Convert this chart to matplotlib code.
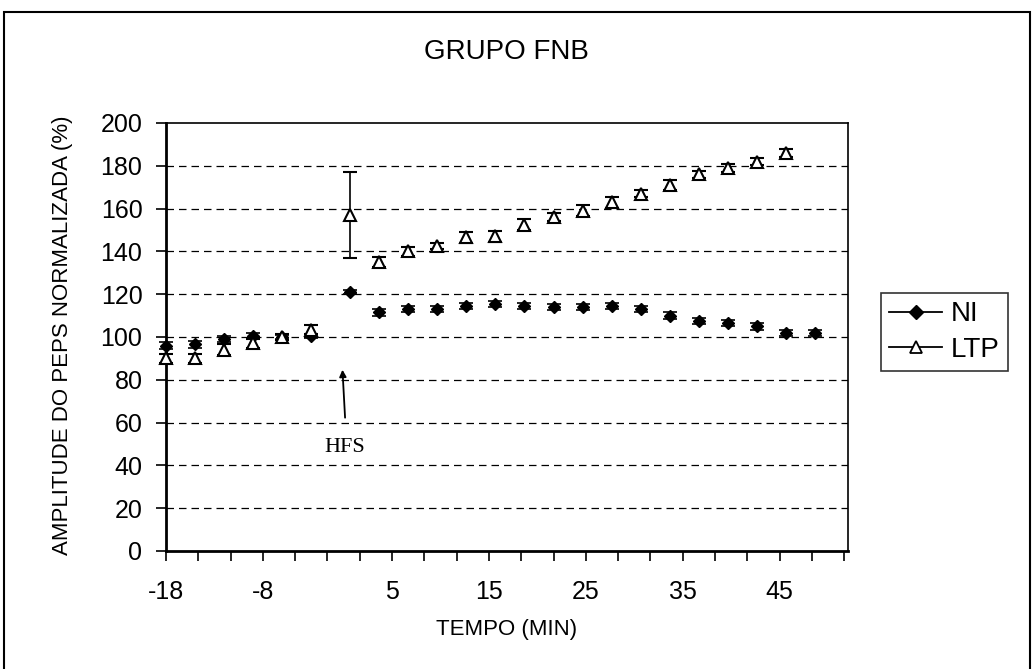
import matplotlib
matplotlib.use("Agg")
import matplotlib.pyplot as plt
from matplotlib.lines import Line2D

plt.rcParams["font.family"] = ["Liberation Sans", "DejaVu Sans"]

# tempo (min) de cada registro
tempo_ni = [-18, -15, -12, -9, -6, -3, 1, 4, 7, 10, 13, 16, 19, 22, 25, 28, 31, 34, 37, 40, 43, 46, 49]
tempo_ltp = tempo_ni[:-1]

# amplitude normalizada (%) e erro padrão
ni = [96, 96.5, 99, 100.5, 100, 100.5, 121, 111.5, 113, 113, 114.5, 115.5,
      114.5, 114, 114, 114.5, 113, 110, 107.5, 106.5, 105, 102, 102]
ni_err = [1.5, 1.5, 1.5, 1.5, 1, 1, 1, 1.5, 1.5, 1.5, 1.5, 1.5,
          1.5, 1.5, 1.5, 1.5, 1.5, 1.5, 1.5, 1.5, 1.5, 1.5, 1.5]
ltp = [90, 90, 94, 97, 100, 103.5, 157, 135, 140, 142.5, 146.5, 147,
       152.5, 156, 159, 163, 167, 171, 176, 179, 182, 186]
ltp_err = [2, 2, 2.5, 2, 1.5, 2, 20, 2.5, 2, 1.5, 2.5, 2.5,
           2.5, 2, 2.5, 2.5, 1.5, 2.5, 1.5, 2, 1.5, 2]

x_ticks = [-18 + k * 10 / 3 for k in range(22)]
x_labels = {0: "-18", 3: "-8", 7: "5", 10: "15", 13: "25", 16: "35", 19: "45"}

fig = plt.figure(figsize=(10.34, 6.69), dpi=100)
ax = fig.add_axes([166 / 1034, 118 / 669, 682 / 1034, 428 / 669])

for series in (
    ax.errorbar(tempo_ni, ni, yerr=ni_err, fmt="D", color="black", ms=6.5,
                ecolor="black", elinewidth=1.2, capsize=5, capthick=1.2,
                zorder=3),
    ax.errorbar(tempo_ltp, ltp, yerr=ltp_err, fmt="^", mfc="white", mec="black",
                mew=1.5, ms=9, ecolor="black", elinewidth=1.2, capsize=5,
                capthick=1.2, zorder=4),
):
    for artist in series.get_children():
        artist.set_clip_on(False)

ax.set_xlim(-18, 52.4)
ax.set_ylim(0, 200)
ax.set_yticks(range(0, 201, 20))
ax.set_xticks(x_ticks)
ax.set_xticklabels([x_labels.get(i, "") for i in range(len(x_ticks))])
ax.tick_params(axis="both", direction="out", length=7, width=1.2,
               labelsize=18, colors="black")
ax.tick_params(axis="y", pad=10)
ax.tick_params(axis="x", pad=14)

for y in range(20, 200, 20):
    ax.axhline(y, color="black", lw=0.9, ls=(0, (6, 4)), zorder=1)
for s in ax.spines.values():
    s.set_linewidth(1.2)
ax.spines["left"].set_linewidth(2)
ax.spines["bottom"].set_linewidth(2)

# seta do estímulo HFS
ax.annotate("", xy=(0.2, 86), xytext=(0.5, 61),
            arrowprops=dict(arrowstyle="-|>", color="black", lw=1.3,
                            mutation_scale=10))
ax.text(0.5, 48.5, "HFS", family="Liberation Serif", fontsize=16,
        ha="center", va="center")

fig.text(506 / 1034, 1 - 52 / 669, "GRUPO FNB", fontsize=20,
         ha="center", va="center")
fig.text(507 / 1034, 1 - 630 / 669, "TEMPO (MIN)", fontsize=16,
         ha="center", va="center")
fig.text(63 / 1034, 1 - 335 / 669, "AMPLITUDE DO PEPS NORMALIZADA (%)",
         fontsize=16, rotation=90, ha="center", va="center")

handles = [
    Line2D([], [], color="black", lw=1.3, marker="D", ms=7),
    Line2D([], [], color="black", lw=1.3, marker="^", ms=8, mfc="white", mew=1.3),
]
leg = fig.legend(handles, ["NI", "LTP"], loc="upper left",
                 bbox_to_anchor=(881 / 1034, 1 - 293 / 669), fontsize=20,
                 frameon=True, fancybox=False, edgecolor="black",
                 handlelength=1.9, handletextpad=0.3, borderpad=0.3,
                 labelspacing=0.35, borderaxespad=0)
leg.get_frame().set_linewidth(1.2)

# moldura externa do gráfico
border = plt.Rectangle((4 / 1034, -0.01), 1026 / 1034, 1 - 12 / 669 + 0.01,
                       transform=fig.transFigure, fill=False,
                       edgecolor="black", lw=1.5)
fig.patches.append(border)

fig.savefig("out.png", dpi=100)
